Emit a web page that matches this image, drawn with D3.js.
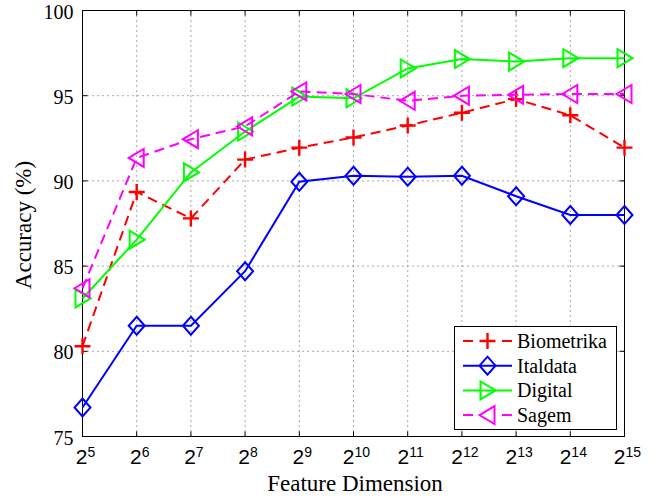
<!DOCTYPE html>
<html>
<head>
<script src="https://d3js.org/d3.v7.min.js"></script>
<style>
  body { margin: 0; background: white; }
  svg { display: block; }
</style>
</head>
<body>
<svg id="chart" width="657" height="498"></svg>
<script>
// exponents of 2 on the x axis
const exps = [5, 6, 7, 8, 9, 10, 11, 12, 13, 14, 15];
const yTicks = [75, 80, 85, 90, 95, 100];

const biometrika = [80.3, 89.35, 87.8, 91.25, 91.95, 92.55, 93.25, 94.0, 94.8, 93.85, 91.95];
const italdata   = [76.7, 81.5, 81.5, 84.7, 89.95, 90.3, 90.25, 90.3, 89.1, 88.0, 88.0];
const digital    = [83.1, 86.55, 90.5, 92.9, 94.95, 94.85, 96.6, 97.15, 97.0, 97.2, 97.2];
const sagem      = [83.7, 91.35, 92.45, 93.2, 95.25, 95.1, 94.7, 95.0, 95.05, 95.1, 95.1];

const seriesNames = ['Biometrika', 'Italdata', 'Digital', 'Sagem'];

const series = [
  {name: seriesNames[0], values: biometrika, color: '#ff0000', dash: '10,6', marker: 'plus'},
  {name: seriesNames[1], values: italdata, color: '#0000ff', dash: null, marker: 'diamond'},
  {name: seriesNames[2], values: digital, color: '#00ff00', dash: null, marker: 'right'},
  {name: seriesNames[3], values: sagem, color: '#ff00ff', dash: '10,6', marker: 'left'}
];

const SERIF = "'Liberation Serif', 'Times New Roman', serif";
const SANS = "'Liberation Sans', Arial, sans-serif";

const svg = d3.select('#chart');
const pL = 82.5, pR = 624.5, pT = 10.5, pB = 436.5;

const x = d3.scaleLinear().domain([5, 15]).range([pL, pR]);
const y = d3.scaleLinear().domain([75, 100]).range([pB, pT]);

// grid
const grid = svg.append('g').attr('stroke', '#555').attr('stroke-width', 1).attr('stroke-dasharray', '1,4');
grid.selectAll('.gx').data(exps.slice(1, -1)).join('line')
    .attr('x1', d => x(d)).attr('x2', d => x(d)).attr('y1', pT).attr('y2', pB);
grid.selectAll('.gy').data(yTicks.slice(1, -1)).join('line')
    .attr('x1', pL).attr('x2', pR).attr('y1', d => y(d)).attr('y2', d => y(d));

// axes (ticks inside, mirrored)
const tickLen = 5;
const axisG = svg.append('g').attr('stroke', '#000').attr('stroke-width', 1);
axisG.append('rect').attr('x', pL).attr('y', pT).attr('width', pR - pL).attr('height', pB - pT).attr('fill', 'none');
exps.forEach(e => {
  axisG.append('line').attr('x1', x(e)).attr('x2', x(e)).attr('y1', pB).attr('y2', pB - tickLen);
  axisG.append('line').attr('x1', x(e)).attr('x2', x(e)).attr('y1', pT).attr('y2', pT + tickLen);
});
yTicks.forEach(v => {
  axisG.append('line').attr('x1', pL).attr('x2', pL + tickLen).attr('y1', y(v)).attr('y2', y(v));
  axisG.append('line').attr('x1', pR).attr('x2', pR - tickLen).attr('y1', y(v)).attr('y2', y(v));
});

// y tick labels
svg.append('g').selectAll('text').data(yTicks).join('text')
   .style('font-family', SERIF)
   .attr('x', pL - 9).attr('y', d => y(d) + 8)
   .attr('text-anchor', 'end')
   .style('font-size', '20px')
   .text(d => d);

// x tick labels 2^n
const xl = svg.append('g').selectAll('text').data(exps).join('text')
   .style('font-family', SANS)
   .attr('x', d => x(d) + 3).attr('y', 464)
   .attr('text-anchor', 'middle')
   .style('font-size', '21px');
xl.append('tspan').text('2');
xl.append('tspan').attr('dy', -7).style('font-size', '14px').text(d => d);

// axis titles
svg.append('text')
   .style('font-family', SERIF)
   .attr('x', 355).attr('y', 491)
   .attr('text-anchor', 'middle')
   .style('font-size', '23px')
   .text('Feature Dimension');
svg.append('text')
   .style('font-family', SERIF)
   .attr('transform', 'translate(31,225) rotate(-90)')
   .attr('text-anchor', 'middle')
   .style('font-size', '23px')
   .text('Accuracy (%)');

// markers
function drawMarker(g, type, cx, cy, color) {
  const s = 8, h = 9;
  let d;
  if (type === 'plus') d = `M${cx - s},${cy}H${cx + s}M${cx},${cy - s}V${cy + s}`;
  else if (type === 'diamond') d = `M${cx},${cy - h}L${cx + s},${cy}L${cx},${cy + h}L${cx - s},${cy}Z`;
  else if (type === 'right') d = `M${cx + s},${cy}L${cx - s + 1},${cy - h}L${cx - s + 1},${cy + h}Z`;
  else d = `M${cx - s},${cy}L${cx + s - 1},${cy - h}L${cx + s - 1},${cy + h}Z`;
  g.append('path').attr('d', d)
   .attr('stroke', color).attr('stroke-width', type === 'plus' ? 2.4 : 2).attr('fill', 'none');
}

const line = d3.line().x((d, i) => x(exps[i])).y(d => y(d));

series.forEach(s => {
  const g = svg.append('g');
  g.append('path').datum(s.values).attr('d', line)
   .attr('fill', 'none').attr('stroke', s.color).attr('stroke-width', 2)
   .attr('stroke-dasharray', s.dash);
  s.values.forEach((v, i) => drawMarker(g, s.marker, x(exps[i]), y(v), s.color));
});

// legend
const lg = svg.append('g');
lg.append('rect').attr('x', 454.5).attr('y', 326.5).attr('width', 162).attr('height', 103)
  .attr('fill', 'white').attr('stroke', '#000').attr('stroke-width', 1);
series.forEach((s, i) => {
  const ly = 341 + i * 24.7;
  lg.append('line').attr('x1', 463).attr('x2', 512).attr('y1', ly).attr('y2', ly)
    .attr('stroke', s.color).attr('stroke-width', 2).attr('stroke-dasharray', s.dash ? '10,29' : null);
  drawMarker(lg, s.marker, 487.5, ly, s.color);
  lg.append('text').style('font-family', SERIF).attr('x', 517).attr('y', ly + 7)
    .style('font-size', '20px')
    .text(s.name);
});
</script>
</body>
</html>
